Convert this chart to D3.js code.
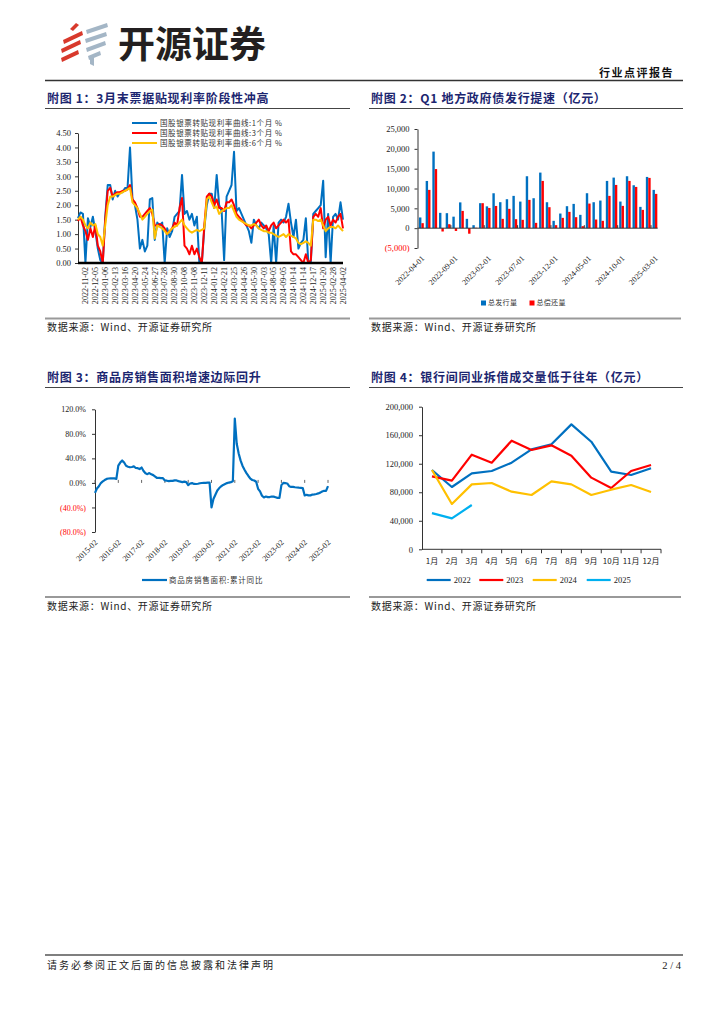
<!DOCTYPE html>
<html><head><meta charset="utf-8">
<script src="https://cdn.jsdelivr.net/npm/d3@7"></script>
<style>
body{margin:0;background:#fff;}
</style></head><body>
<svg id="page" width="724" height="1024"></svg>
<script>
// ---------------- DATA ----------------
// Chart 1: 票据转贴现利率 (index-based daily samples), tick labels
const c1Dates = ["2022-11-02","2022-12-05","2023-01-06","2023-02-13","2023-03-16","2023-04-20","2023-05-24","2023-06-27","2023-07-28","2023-08-30","2023-10-08","2023-11-08","2023-12-11","2024-01-12","2024-02-21","2024-03-25","2024-04-26","2024-05-30","2024-07-03","2024-08-05","2024-09-05","2024-10-14","2024-11-14","2024-12-17","2025-01-20","2025-02-28","2025-04-02"];
const c1Names = ["国股银票转贴现利率曲线:1个月 %","国股银票转贴现利率曲线:3个月 %","国股银票转贴现利率曲线:6个月 %"];
const rate1M = [1.55,1.75,1.7,0.0,1.55,1.25,1.6,1.1,0.5,0.1,
 0.0,1.6,2.7,2.7,2.2,2.5,2.3,2.45,2.45,2.6,
 2.6,4.0,2.2,2.0,1.5,0.5,0.8,0.4,0.6,2.2,
 2.25,0.8,1.4,1.3,1.4,0.0,1.2,0.9,1.1,1.6,
 1.7,1.8,3.05,1.7,1.8,1.5,1.7,1.3,1.6,0.0,
 0.0,1.2,2.0,2.4,2.4,1.9,3.05,2.0,1.8,0.1,
 2.3,2.5,2.7,3.85,1.8,1.9,1.7,1.5,1.3,1.1,
 0.7,1.5,1.3,1.2,1.4,1.3,1.2,1.0,0.0,1.3,
 0.0,1.4,1.5,1.4,1.6,2.05,1.4,0.9,1.5,0.5,
 0.7,0.8,1.55,0.0,0.0,1.7,1.8,1.9,2.0,2.85,
 0.2,1.7,0.0,1.6,1.7,1.5,2.1,1.5];
const rate3M = [1.45,1.6,1.3,1.1,0.8,1.2,0.9,1.3,0.6,0.4,
 0.0,1.5,2.5,2.6,2.3,2.4,2.45,2.45,2.5,2.5,
 2.55,2.7,2.2,2.1,1.9,1.6,1.6,1.7,1.8,1.9,
 1.7,1.3,1.3,1.35,1.3,1.2,1.0,1.1,1.2,1.4,
 1.3,1.9,2.25,0.6,0.5,0.3,0.6,0.3,0.5,0.2,
 0.0,1.3,2.3,2.4,2.3,2.0,2.2,1.9,1.9,1.8,
 2.1,2.1,2.2,2.0,1.7,1.6,1.5,1.4,1.3,1.3,
 1.2,1.3,1.4,1.5,1.3,1.2,1.3,1.1,1.3,1.4,
 1.2,1.3,1.4,1.5,1.4,1.5,0.4,0.3,0.3,0.2,
 0.1,0.0,0.3,0.0,0.1,1.6,1.7,1.6,1.9,1.2,
 1.5,1.6,1.3,1.5,1.4,1.6,1.7,1.2];
const rate6M = [1.5,1.6,1.5,1.3,1.2,1.4,1.3,1.35,1.0,0.9,
 0.6,1.3,2.0,2.3,2.3,2.35,2.4,2.4,2.45,2.5,
 2.55,2.6,2.1,2.0,1.9,1.7,1.5,1.6,1.7,1.8,
 1.85,0.85,1.3,1.25,1.2,1.1,1.0,1.1,1.2,1.25,
 1.3,1.4,1.5,1.3,1.2,1.1,1.05,1.1,1.15,1.1,
 1.15,1.2,2.2,2.3,2.1,1.9,1.95,1.7,1.8,1.85,
 1.9,1.9,2.0,1.8,1.6,1.5,1.45,1.4,1.35,1.3,
 1.3,1.35,1.3,1.2,1.15,1.1,1.1,1.05,1.05,1.0,
 0.95,0.9,0.95,1.0,0.9,1.0,0.95,0.9,0.85,0.7,
 0.65,0.7,0.75,0.7,0.6,1.5,1.5,1.45,1.5,1.3,
 1.1,1.2,1.25,1.25,1.2,1.3,1.2,1.1];
const c1YTicks = [0,0.5,1,1.5,2,2.5,3,3.5,4,4.5];

// Chart 2: 地方政府债 (亿元)
const c2Months = ["2022-04-01","2022-05-01","2022-06-01","2022-07-01","2022-08-01","2022-09-01","2022-10-01","2022-11-01","2022-12-01",
 "2023-01-01","2023-02-01","2023-03-01","2023-04-01","2023-05-01","2023-06-01","2023-07-01","2023-08-01","2023-09-01","2023-10-01","2023-11-01","2023-12-01",
 "2024-01-01","2024-02-01","2024-03-01","2024-04-01","2024-05-01","2024-06-01","2024-07-01","2024-08-01","2024-09-01","2024-10-01","2024-11-01","2024-12-01",
 "2025-01-01","2025-02-01","2025-03-01"];
const c2Issue = [2700,11900,19300,3860,3780,2900,6500,2350,750,6300,5500,8800,6550,7300,8140,6700,13090,7550,14010,6540,1850,3690,5540,6120,3360,8810,6540,6960,11910,12750,6710,13090,10820,5370,12920,9650];
const c2Repay = [1260,9650,14900,-840,1000,-700,4350,-1400,100,6300,5100,5600,2350,4870,2270,2100,7130,1340,11910,5290,760,2600,4110,2770,500,6200,2180,1850,8140,10900,5620,11910,10400,4610,12670,8640];
const c2Names = ["总发行量","总偿还量"];
const c2YTicks = [-5000,0,5000,10000,15000,20000,25000];

// Chart 3: 商品房销售面积累计同比 (%)
const c3Years = ["2015-02","2016-02","2017-02","2018-02","2019-02","2020-02","2021-02","2022-02","2023-02","2024-02","2025-02"];
const c3Sales = [-16.3,-9.2,-5.4,-0.2,2.5,4.7,6.5,7.2,7.5,7.4,7.4,6.5,
 28.2,33.1,36.5,33.2,27.9,26.4,25.5,26.0,26.9,24.3,24.0,22.5,
 25.1,19.5,15.7,14.3,16.1,14.0,12.7,10.3,8.0,8.2,7.9,7.7,
 4.1,3.6,2.9,3.3,3.3,4.2,4.0,2.9,2.2,1.4,2.1,1.3,
 -3.6,-0.9,-0.3,-1.6,-1.8,-1.3,-0.6,-0.1,0.1,0.2,0.5,0.5,
 -39.9,-26.3,-19.3,-12.3,-8.4,-5.4,-3.3,-1.8,-0.3,0.6,1.3,2.6,
 104.9,63.8,48.1,36.3,27.7,21.5,15.9,11.3,7.0,4.8,4.0,1.9,
 -9.6,-13.8,-20.9,-23.6,-22.2,-23.1,-23.0,-22.2,-22.3,-23.3,-24.3,-24.3,
 -3.6,0.0,-0.4,-0.9,-5.3,-6.5,-6.5,-7.1,-7.5,-7.8,-8.0,-8.5,
 -20.5,-19.4,-20.2,-20.3,-19.0,-18.6,-18.0,-17.1,-15.8,-14.0,-12.9,-12.9,
 -5.1];
const c3YTicks = [-80,-40,0,40,80,120];
const c3Name = "商品房销售面积:累计同比";

// Chart 4: 同业拆借成交量 (亿元)
const c4Months = ["1月","2月","3月","4月","5月","6月","7月","8月","9月","10月","11月","12月"];
const c4Years = ["2022","2023","2024","2025"];
const lend2022 = [111200,87400,106500,109800,121500,140200,147200,175200,150900,108900,104200,113600];
const lend2023 = [102300,96300,132700,121500,152300,139300,145800,131300,100500,86000,109800,118200];
const lend2024 = [111200,63600,91100,93000,80800,76200,95300,91100,76200,83600,90200,80400];
const lend2025 = [50800,43300,62100];
const c4YTicks = [0,40000,80000,120000,160000,200000];

// ---------------- DRAW ----------------
const SERIF = "'Liberation Serif','Times New Roman',serif";
const CJK = "'Noto Sans CJK SC','Noto Sans',sans-serif";
const NAVY = "#1c2670";
const BLUE = "#0070C0", RED = "#FF0000", YEL = "#FFC000", CYAN = "#00B0F0";
const svg = d3.select("#page");

// Header logo
const logo = svg.append("g");
const redP = ["M70,29 L76,23 L79,25 L73,31 Z","M63,40 L82,31 L83,35 L64,44 Z","M61,49 L80,40 L81,44 L62,53 Z","M61,58 L78,50 L79,54 L62,62 Z"];
const greyP = ["M86,30 L107,23 L108,27 L87,34 Z","M85,39 L106,32 L107,36 L86,43 Z","M86,48 L105,41 L106,45 L87,52 Z","M88,56 L100,51 L101,55 L89,60 Z","M90,58 L94,58 L94,66 L90,64 Z"];
logo.selectAll("path.r").data(redP).join("path").attr("d",d=>d).attr("fill","#d8392c");
logo.selectAll("path.g").data(greyP).join("path").attr("d",d=>d).attr("fill","#a4b6c6");
svg.append("text").attr("x",118).attr("y",58).attr("font-family",CJK).attr("font-weight","bold")
  .attr("font-size",37).attr("fill","#231f20").text("开源证券");
svg.append("text").attr("x",674).attr("y",77).attr("text-anchor","end").attr("font-family",CJK)
  .attr("font-weight","bold").attr("font-size",11).attr("letter-spacing",1.5).attr("fill","#111").text("行业点评报告");
svg.append("line").attr("x1",45).attr("x2",683).attr("y1",80.5).attr("y2",80.5).attr("stroke","#333").attr("stroke-width",1.5);

// Titles and sources
function titleBlock(x, x2, y, txt){
  svg.append("text").attr("x",x+2).attr("y",y).attr("font-family",CJK).attr("font-weight","bold")
    .attr("font-size",12).attr("letter-spacing",0.7).attr("fill",NAVY).text(txt);
  svg.append("line").attr("x1",x).attr("x2",x2).attr("y1",y+5.5).attr("y2",y+5.5).attr("stroke","#444").attr("stroke-width",1);
}
function sourceBlock(x, x2, y){
  svg.append("line").attr("x1",x).attr("x2",x2).attr("y1",y).attr("y2",y).attr("stroke","#999").attr("stroke-width",1.8);
  svg.append("text").attr("x",x+2).attr("y",y+12.5).attr("font-family",CJK).attr("font-size",10)
    .attr("letter-spacing",0.7).attr("fill","#222").text("数据来源：Wind、开源证券研究所");
}
titleBlock(45,350,103,"附图 1：3月末票据贴现利率阶段性冲高");
titleBlock(369,683,103,"附图 2：Q1 地方政府债发行提速（亿元）");
titleBlock(45,350,382,"附图 3：商品房销售面积增速边际回升");
titleBlock(369,683,382,"附图 4：银行间同业拆借成交量低于往年（亿元）");
sourceBlock(45,350,318.5);
sourceBlock(369,681,318.5);
sourceBlock(45,350,597);
sourceBlock(369,681,597);

// Footer
svg.append("line").attr("x1",45).attr("x2",683).attr("y1",955).attr("y2",955).attr("stroke","#555").attr("stroke-width",1.5);
svg.append("text").attr("x",47).attr("y",969).attr("font-family",CJK).attr("font-size",10)
  .attr("letter-spacing",2).attr("fill","#222").text("请务必参阅正文后面的信息披露和法律声明");
svg.append("text").attr("x",681).attr("y",969).attr("text-anchor","end").attr("font-family",SERIF)
  .attr("font-size",10.5).attr("fill","#222").text("2 / 4");

function styleAxis(g, fs){
  g.select(".domain").attr("stroke","#333").attr("stroke-width",1);
  g.selectAll(".tick line").attr("stroke","#333");
  g.selectAll("text").attr("font-family",SERIF).attr("font-size",fs).attr("fill","#222");
}

// ---------- Chart 1 ----------
{
  const N = rate1M.length;
  const x = d3.scaleLinear().domain([0, N-1]).range([78, 343]);
  const y = d3.scaleLinear().domain([0, 4.5]).range([263, 133]);
  const g = svg.append("g");
  const ya = g.append("g").attr("transform","translate(78,0)")
    .call(d3.axisLeft(y).tickValues(c1YTicks).tickFormat(d3.format(".2f")).tickSize(3).tickSizeOuter(0).tickPadding(4));
  styleAxis(ya, 8.5);
  const line = d3.line().x((d,i)=>x(i)).y(d=>y(d));
  [[rate1M,BLUE],[rate3M,RED],[rate6M,YEL]].forEach(([s,c])=>{
    g.append("path").datum(s).attr("d",line).attr("fill","none").attr("stroke",c).attr("stroke-width",2).attr("stroke-linejoin","round");
  });
  g.append("line").attr("x1",78).attr("x2",343).attr("y1",y(0)).attr("y2",y(0)).attr("stroke","#000").attr("stroke-width",2.5);
  g.selectAll("text.xl").data(c1Dates).join("text")
    .attr("transform",(d,k)=>`translate(${x(3+4*k)},267) rotate(-90)`)
    .attr("text-anchor","end").attr("dy","0.35em").attr("font-family",SERIF).attr("font-size",8).attr("fill","#222").text(d=>d);
  const lg = g.append("g");
  [BLUE,RED,YEL].forEach((c,i)=>{
    const yy = 123 + i*10;
    lg.append("line").attr("x1",132).attr("x2",157).attr("y1",yy).attr("y2",yy).attr("stroke",c).attr("stroke-width",2);
    lg.append("text").attr("x",160).attr("y",yy).attr("dy","0.35em").attr("font-family",CJK).attr("font-size",7.5)
      .attr("letter-spacing",0.6).attr("fill","#333").text(c1Names[i]);
  });
}

// ---------- Chart 2 ----------
{
  const x = d3.scaleBand().domain(c2Months).range([417.5, 657.7]);
  const y = d3.scaleLinear().domain([-5000, 25000]).range([248, 129]);
  const g = svg.append("g");
  const fmt = v => v < 0 ? `(${d3.format(",")(-v)})` : d3.format(",")(v);
  const ya = g.append("g").attr("transform","translate(417.5,0)")
    .call(d3.axisLeft(y).tickValues(c2YTicks).tickFormat(fmt).tickSize(3).tickSizeOuter(0).tickPadding(5));
  styleAxis(ya, 8.5);
  ya.selectAll(".tick text").attr("fill", d => d < 0 ? "#ff0000" : "#222");
  g.selectAll("rect.i").data(c2Months).join("rect")
    .attr("x", d => x(d) + 1.5).attr("width", 2.4)
    .attr("y", (d,i) => Math.min(y(c2Issue[i]), y(0))).attr("height", (d,i) => Math.abs(y(c2Issue[i]) - y(0)))
    .attr("fill", BLUE);
  g.selectAll("rect.r").data(c2Months).join("rect")
    .attr("x", d => x(d) + 3.9).attr("width", 2.4)
    .attr("y", (d,i) => Math.min(y(c2Repay[i]), y(0))).attr("height", (d,i) => Math.abs(y(c2Repay[i]) - y(0)))
    .attr("fill", RED);
  g.append("line").attr("x1",417.5).attr("x2",657.7).attr("y1",y(0)).attr("y2",y(0)).attr("stroke","#333").attr("stroke-width",1);
  g.selectAll("line.tk").data(c2Months.filter((d,i)=>i%5===0 && i>0)).join("line")
    .attr("x1", d => x(d)).attr("x2", d => x(d)).attr("y1", y(0)).attr("y2", y(0)-3).attr("stroke","#333");
  g.selectAll("text.xl").data(c2Months.filter((d,i)=>i%5===0)).join("text")
    .attr("transform", d => `translate(${x(d)+x.bandwidth()/2+4},259) rotate(-45)`)
    .attr("text-anchor","end").attr("font-family",SERIF).attr("font-size",8).attr("fill","#222").text(d=>d);
  [BLUE,RED].forEach((c,i)=>{
    const lx = 481 + i*48.5;
    g.append("rect").attr("x",lx).attr("y",300.5).attr("width",5).attr("height",5).attr("fill",c);
    g.append("text").attr("x",lx+7).attr("y",303).attr("dy","0.35em").attr("font-family",CJK).attr("font-size",7)
      .attr("letter-spacing",0.3).attr("fill","#333").text(c2Names[i]);
  });
}

// ---------- Chart 3 ----------
{
  const N = c3Sales.length;
  const x = d3.scaleLinear().domain([0, N-1]).range([95, 328]);
  const y = d3.scaleLinear().domain([-80, 120]).range([532, 409.3]);
  const g = svg.append("g");
  const fmt = v => v < 0 ? `(${Math.abs(v).toFixed(1)}%)` : v.toFixed(1) + "%";
  const ya = g.append("g").attr("transform","translate(95,0)")
    .call(d3.axisLeft(y).tickValues(c3YTicks).tickFormat(fmt).tickSize(3).tickSizeOuter(0).tickPadding(6));
  styleAxis(ya, 8);
  ya.selectAll(".tick text").attr("fill", d => d < 0 ? "#ff0000" : "#222");
  g.selectAll("line.tk").data(c3Years).join("line")
    .attr("x1",(d,k)=>x(12*k)).attr("x2",(d,k)=>x(12*k)).attr("y1",y(0)).attr("y2",y(0)-3).attr("stroke","#666");
  g.append("path").datum(c3Sales).attr("d", d3.line().x((d,i)=>x(i)).y(d=>y(d)))
    .attr("fill","none").attr("stroke",BLUE).attr("stroke-width",2.2).attr("stroke-linejoin","round");
  g.selectAll("text.xl").data(c3Years).join("text")
    .attr("transform",(d,k)=>`translate(${x(12*k)+3},543) rotate(-45)`)
    .attr("text-anchor","end").attr("font-family",SERIF).attr("font-size",8).attr("fill","#222").text(d=>d);
  g.append("line").attr("x1",142).attr("x2",167).attr("y1",580).attr("y2",580).attr("stroke",BLUE).attr("stroke-width",2.2);
  g.append("text").attr("x",169).attr("y",580).attr("dy","0.35em").attr("font-family",CJK).attr("font-size",7.5)
    .attr("letter-spacing",0.8).attr("fill","#333").text(c3Name);
}

// ---------- Chart 4 ----------
{
  const x = d3.scaleBand().domain(c4Months).range([422, 661]);
  const y = d3.scaleLinear().domain([0, 200000]).range([549.3, 406.7]);
  const g = svg.append("g");
  const ya = g.append("g").attr("transform","translate(422,0)")
    .call(d3.axisLeft(y).tickValues(c4YTicks).tickFormat(d3.format(",")).tickSize(3).tickSizeOuter(0).tickPadding(6));
  styleAxis(ya, 8.5);
  g.append("line").attr("x1",422).attr("x2",661).attr("y1",y(0)).attr("y2",y(0)).attr("stroke","#333").attr("stroke-width",1);
  g.selectAll("line.tk").data(c4Months).join("line")
    .attr("x1", d => x(d) + x.bandwidth()).attr("x2", d => x(d) + x.bandwidth())
    .attr("y1", y(0)).attr("y2", y(0)+4).attr("stroke","#333");
  g.selectAll("text.xl").data(c4Months).join("text")
    .attr("x", d => x(d) + x.bandwidth()/2).attr("y", 564).attr("text-anchor","middle")
    .attr("font-family",CJK).attr("font-size",8).attr("fill","#222").text(d=>d);
  const line = d3.line().x((d,i)=>x(c4Months[i]) + x.bandwidth()/2).y(d=>y(d));
  const series = [lend2022, lend2023, lend2024, lend2025];
  const cols = [BLUE, RED, YEL, CYAN];
  series.forEach((s,i)=>{
    g.append("path").datum(s).attr("d",line).attr("fill","none").attr("stroke",cols[i]).attr("stroke-width",2.2).attr("stroke-linejoin","round");
  });
  const lx = [426.7, 479.3, 532.7, 586.7];
  c4Years.forEach((yr,i)=>{
    g.append("line").attr("x1",lx[i]).attr("x2",lx[i]+24).attr("y1",580).attr("y2",580).attr("stroke",cols[i]).attr("stroke-width",2.2);
    g.append("text").attr("x",lx[i]+27).attr("y",580).attr("dy","0.35em").attr("font-family",SERIF).attr("font-size",8.5)
      .attr("fill","#222").text(yr);
  });
}
</script>
</body></html>
